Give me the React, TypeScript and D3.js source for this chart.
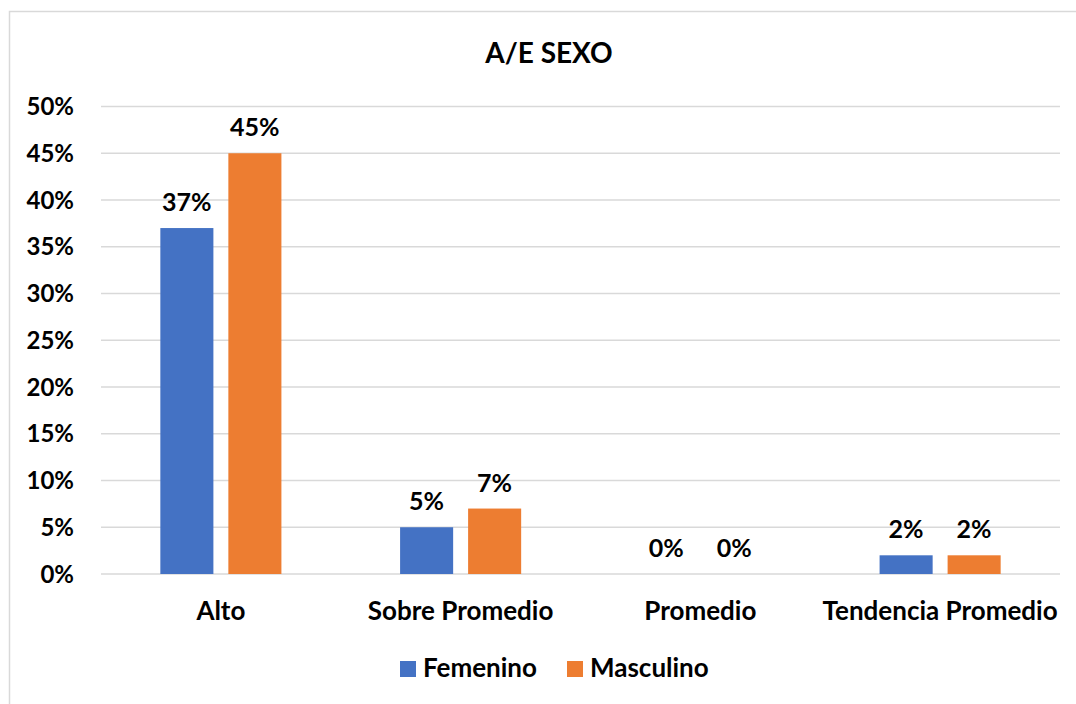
import * as d3 from 'd3';
import { useEffect, useRef } from 'react';

const categories = ['Alto', 'Sobre Promedio', 'Promedio', 'Tendencia Promedio'];
const seriesNames = ['Femenino', 'Masculino'];
const femenino = [37, 5, 0, 2];
const masculino = [45, 7, 0, 2];
const yTicks = [0, 5, 10, 15, 20, 25, 30, 35, 40, 45, 50];
const colors = ['#4472C4', '#ED7D31'];

const W = 1076;
const H = 704;
const FONT = 'Lato, "Open Sans", sans-serif';

export default function App() {
  const ref = useRef<SVGSVGElement>(null);

  useEffect(() => {
    const svg = d3.select(ref.current);
    svg.selectAll('*').remove();

    const left = 101, right = 1060, top = 106.5, bottom = 574;

    // chart frame
    svg.append('rect')
      .attr('x', 9.5).attr('y', 11.5)
      .attr('width', W + 10).attr('height', H + 10)
      .attr('fill', '#fff').attr('stroke', '#d9d9d9').attr('stroke-width', 1.5);

    svg.append('text')
      .attr('x', 549).attr('y', 63)
      .attr('text-anchor', 'middle')
      .attr('font-family', FONT).attr('font-weight', 700).attr('font-size', 28)
      .attr('fill', '#000')
      .text('A/E SEXO');

    const y = d3.scaleLinear().domain([0, 50]).range([bottom, top]);
    const x0 = d3.scaleBand().domain(categories).range([left, right]).paddingInner(0.495).paddingOuter(0.2475);
    const x1 = d3.scaleBand().domain(seriesNames).range([0, x0.bandwidth()]).paddingInner(0.22);

    // gridlines
    svg.append('g').selectAll('line').data(yTicks).enter().append('line')
      .attr('x1', left).attr('x2', right)
      .attr('y1', (d) => y(d)).attr('y2', (d) => y(d))
      .attr('stroke', '#d9d9d9').attr('stroke-width', 1.5);

    // y tick labels
    svg.append('g').selectAll('text').data(yTicks).enter().append('text')
      .attr('x', 74).attr('y', (d) => y(d) + 8.5)
      .attr('text-anchor', 'end')
      .attr('font-family', FONT).attr('font-weight', 700).attr('font-size', 24)
      .text((d) => d + '%');

    const rows = categories.map((c, i) => ({ cat: c, vals: [femenino[i], masculino[i]] }));

    const groups = svg.append('g').selectAll('g').data(rows).enter().append('g')
      .attr('transform', (d) => `translate(${x0(d.cat)},0)`);

    groups.selectAll('rect')
      .data((d) => d.vals.map((v, j) => ({ v, s: seriesNames[j], j })))
      .enter().append('rect')
      .attr('x', (d) => x1(d.s) || 0)
      .attr('y', (d) => y(d.v))
      .attr('width', x1.bandwidth())
      .attr('height', (d) => bottom - y(d.v))
      .attr('fill', (d) => colors[d.j]);

    groups.selectAll('text')
      .data((d) => d.vals.map((v, j) => ({ v, s: seriesNames[j] })))
      .enter().append('text')
      .attr('x', (d) => (x1(d.s) || 0) + x1.bandwidth() / 2)
      .attr('y', (d) => y(d.v) - 17)
      .attr('text-anchor', 'middle')
      .attr('font-family', FONT).attr('font-weight', 700).attr('font-size', 25)
      .text((d) => d.v + '%');

    // category labels
    svg.append('g').selectAll('text').data(categories).enter().append('text')
      .attr('x', (d) => (x0(d) || 0) + x0.bandwidth() / 2)
      .attr('y', 620)
      .attr('text-anchor', 'middle')
      .attr('font-family', FONT).attr('font-weight', 700).attr('font-size', 26)
      .text((d) => d);

    // legend
    const legendX = [400, 567];
    const lg = svg.append('g').selectAll('g').data(seriesNames).enter().append('g')
      .attr('transform', (d, i) => `translate(${legendX[i]},661)`);
    lg.append('rect').attr('width', 16).attr('height', 16).attr('fill', (d, i) => colors[i]);
    lg.append('text')
      .attr('x', 23).attr('y', 16)
      .attr('font-family', FONT).attr('font-weight', 700).attr('font-size', 26)
      .text((d) => d);
  }, []);

  return (
    <svg ref={ref} width={W} height={H} style={{ position: 'absolute', left: 0, top: 0 }} />
  );
}
